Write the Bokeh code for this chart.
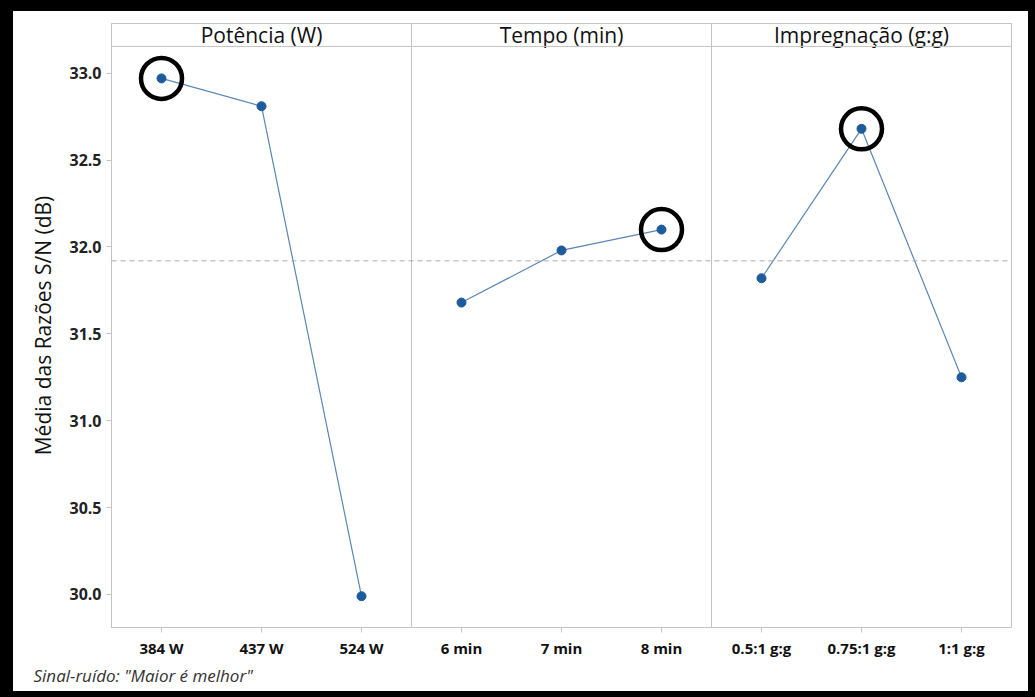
import numpy as np
from bokeh.plotting import figure
from bokeh.models import Span, Title, FixedTicker, Range1d, NumeralTickFormatter
from bokeh.embed import file_html
from bokeh.resources import INLINE
from bokeh.core.properties import value

# Taguchi main-effects plot for S/N ratios ("larger is better")
factor_names = ["Potência (W)", "Tempo (min)", "Impregnação (g:g)"]
potencia_levels = ["384 W", "437 W", "524 W"]
tempo_levels = ["6 min", "7 min", "8 min"]
impreg_levels = ["0.5:1 g:g", "0.75:1 g:g", "1:1 g:g"]
potencia_sn = [32.97, 32.81, 29.99]
tempo_sn = [31.68, 31.98, 32.10]
impreg_sn = [31.82, 32.68, 31.25]
best_level = [0, 2, 1]          # circled optimum level for each factor
y_ticks = [30.0, 30.5, 31.0, 31.5, 32.0, 32.5, 33.0]
y_title = "Média das Razões S/N (dB)"
footnote = 'Sinal-ruído: "Maior é melhor"'

levels = [potencia_levels, tempo_levels, impreg_levels]
means = [potencia_sn, tempo_sn, impreg_sn]
grand_mean = float(np.mean(potencia_sn + tempo_sn + impreg_sn))

FONT = "Open Sans"
GRID = "#c3c3c3"
LINE = "#5a86b4"
DOT = "#1d5b9b"
INK = "#111111"

y_lo, y_top = 29.81, 33.286     # full frame height including header strip
strip_bottom = 33.154

p = figure(width=1035, height=697, output_backend="svg", toolbar_location=None,
           x_range=Range1d(0, 9), y_range=Range1d(y_lo, y_top),
           min_border_left=111, min_border_right=24, min_border_top=23,
           min_border_bottom=70)
p.xgrid.visible = False
p.ygrid.visible = False
p.outline_line_color = GRID
p.border_fill_alpha = 0.0
p.styles = {
    "background-color": "white",
    "box-shadow": ("inset 13px 0 0 0 black, inset 0 11px 0 0 black, "
                   "inset -7px 0 0 0 black, inset 0 -6px 0 0 black"),
}

# x axis: one tick per factor level
tick_pos = []
overrides = {}
for i, labs in enumerate(levels):
    for j, lab in enumerate(labs):
        pos = 3 * i + j + 0.5
        tick_pos.append(pos)
        overrides[pos] = lab
p.xaxis.ticker = FixedTicker(ticks=tick_pos)
p.xaxis.major_label_overrides = overrides
p.xaxis.major_label_text_font = FONT
p.xaxis.major_label_text_font_size = "15px"
p.xaxis.major_label_text_font_style = "bold"
p.xaxis.major_label_text_color = INK
p.xaxis.major_label_standoff = 5
p.xaxis.minor_tick_line_color = None

p.yaxis.ticker = FixedTicker(ticks=y_ticks)
p.yaxis.formatter = NumeralTickFormatter(format="0.0")
p.yaxis.major_label_text_font = FONT
p.yaxis.major_label_text_font_size = "16px"
p.yaxis.major_label_text_font_style = "bold"
p.yaxis.major_label_text_color = "#222222"
p.yaxis.major_label_standoff = 5
p.yaxis.minor_tick_line_color = None
p.yaxis.axis_label = y_title
p.yaxis.axis_label_text_font = FONT
p.yaxis.axis_label_text_font_size = "21px"
p.yaxis.axis_label_text_font_style = "normal"
p.yaxis.axis_label_text_color = INK
p.yaxis.axis_label_standoff = 9

for ax in (p.xaxis, p.yaxis):
    ax.axis_line_color = GRID
    ax.major_tick_line_color = GRID
    ax.major_tick_in = 0
    ax.major_tick_out = 5

# panel separators, header strip and grand-mean reference line
for loc in (3, 6):
    p.add_layout(Span(location=loc, dimension="height", line_color=GRID, line_width=1))
p.add_layout(Span(location=strip_bottom, dimension="width", line_color=GRID, line_width=1))
p.add_layout(Span(location=grand_mean, dimension="width", line_color="#a9a9a9",
                  line_width=1, line_dash="5 4"))

p.text(x=[3 * i + 1.5 for i in range(3)], y=[(strip_bottom + y_top) / 2] * 3,
       text=factor_names, text_font=value(FONT), text_font_size="21px",
       text_color=INK, text_align="center", text_baseline="middle")

ring_x, ring_y = [], []
for i, vals in enumerate(means):
    xs = [3 * i + j + 0.5 for j in range(len(vals))]
    p.line(xs, vals, line_color=LINE, line_width=1.2)
    p.scatter(xs, vals, size=9, fill_color=DOT, line_color=DOT)
    ring_x.append(xs[best_level[i]])
    ring_y.append(vals[best_level[i]])

p.scatter(ring_x, ring_y, size=41, fill_alpha=0, line_color="black", line_width=4.5)

# footnote under the x axis, pulled left to the page margin
p.add_layout(Title(text=footnote, align="left", offset=-78, standoff=3,
                   text_font=FONT, text_font_size="17px", text_font_style="italic",
                   text_color="#333333"), "below")

open("out.html", "w").write(file_html(p, INLINE))
